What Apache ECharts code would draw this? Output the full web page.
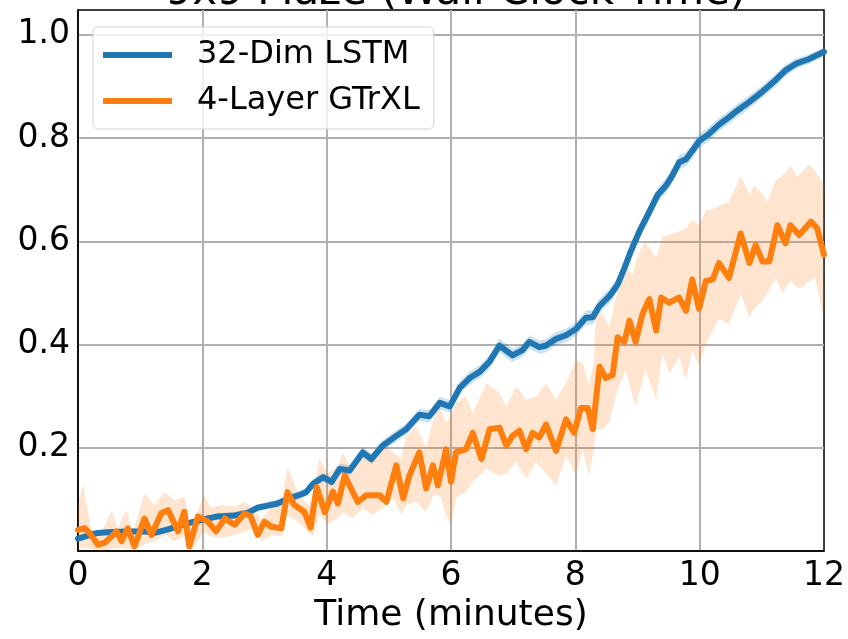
<!DOCTYPE html>
<html>
<head>
<meta charset="utf-8">
<script src="https://cdn.jsdelivr.net/npm/echarts@6/dist/echarts.min.js"></script>
<style>
html,body{margin:0;padding:0;background:#fff;}
#chart{width:848px;height:639px;}
</style>
</head>
<body>
<div id="chart"></div>
<script>
// ---- data ----
var titleText = '9x9 Maze (Wall-Clock Time)';
var xName = 'Time (minutes)';
var seriesNames = ['32-Dim LSTM', '4-Layer GTrXL'];

var blueT = [0.00,0.16,0.32,0.54,0.80,1.07,1.23,1.45,1.66,1.87,2.09,2.25,2.52,2.73,2.89,3.05,3.21,3.40,3.57,3.67,3.78,3.94,4.08,4.21,4.37,4.58,4.72,4.90,5.12,5.28,5.49,5.65,5.82,5.98,6.14,6.30,6.46,6.62,6.78,6.99,7.15,7.26,7.42,7.53,7.69,7.85,8.01,8.17,8.28,8.39,8.55,8.68,8.79,8.89,9.03,9.19,9.32,9.46,9.56,9.67,9.78,9.88,9.99,10.15,10.31,10.47,10.58,10.80,11.01,11.22,11.38,11.55,11.76,12.00];
var blueV = [0.024,0.030,0.035,0.037,0.038,0.038,0.035,0.042,0.050,0.057,0.063,0.067,0.069,0.074,0.084,0.088,0.092,0.102,0.109,0.114,0.130,0.143,0.134,0.159,0.156,0.191,0.178,0.204,0.223,0.236,0.264,0.261,0.287,0.280,0.316,0.335,0.347,0.367,0.398,0.379,0.389,0.405,0.395,0.398,0.411,0.418,0.430,0.452,0.453,0.475,0.494,0.516,0.548,0.580,0.619,0.657,0.689,0.708,0.727,0.753,0.759,0.775,0.794,0.808,0.826,0.840,0.851,0.870,0.890,0.912,0.931,0.944,0.953,0.967];
var blueLow = [0.019,0.025,0.030,0.032,0.033,0.033,0.030,0.036,0.044,0.051,0.057,0.061,0.062,0.067,0.077,0.081,0.085,0.094,0.101,0.106,0.121,0.134,0.125,0.149,0.146,0.181,0.167,0.193,0.212,0.225,0.252,0.249,0.275,0.268,0.303,0.322,0.334,0.354,0.385,0.366,0.376,0.392,0.382,0.385,0.398,0.405,0.417,0.438,0.439,0.461,0.480,0.502,0.534,0.566,0.605,0.643,0.675,0.694,0.713,0.739,0.745,0.761,0.780,0.794,0.813,0.827,0.838,0.857,0.878,0.900,0.920,0.934,0.944,0.959];
var blueHigh = [0.029,0.035,0.040,0.042,0.043,0.044,0.041,0.048,0.056,0.063,0.069,0.073,0.076,0.081,0.091,0.095,0.099,0.110,0.117,0.122,0.139,0.152,0.144,0.169,0.166,0.201,0.189,0.215,0.234,0.247,0.276,0.273,0.299,0.292,0.329,0.348,0.360,0.380,0.411,0.392,0.402,0.418,0.408,0.411,0.424,0.431,0.443,0.466,0.467,0.489,0.508,0.530,0.562,0.594,0.633,0.671,0.703,0.722,0.741,0.767,0.773,0.789,0.808,0.822,0.839,0.853,0.864,0.883,0.902,0.924,0.942,0.954,0.962,0.975];

var orangeT = [0.00,0.11,0.21,0.32,0.43,0.54,0.62,0.70,0.80,0.91,1.07,1.18,1.34,1.45,1.61,1.71,1.79,1.93,2.09,2.22,2.36,2.52,2.68,2.78,2.89,3.00,3.11,3.27,3.37,3.48,3.64,3.74,3.84,3.97,4.10,4.18,4.29,4.50,4.64,4.85,4.96,5.12,5.23,5.33,5.49,5.60,5.71,5.79,5.92,6.00,6.08,6.24,6.35,6.49,6.62,6.78,6.89,6.99,7.10,7.21,7.31,7.42,7.53,7.69,7.85,7.98,8.09,8.20,8.28,8.39,8.49,8.60,8.68,8.79,8.87,8.97,9.08,9.19,9.30,9.38,9.51,9.67,9.78,9.88,9.99,10.10,10.21,10.31,10.47,10.66,10.80,10.90,11.01,11.12,11.25,11.38,11.46,11.60,11.79,11.89,12.00];
var orangeV = [0.041,0.044,0.031,0.012,0.016,0.028,0.038,0.019,0.044,0.009,0.063,0.031,0.073,0.079,0.038,0.076,0.009,0.067,0.057,0.038,0.063,0.051,0.073,0.067,0.031,0.057,0.047,0.044,0.114,0.089,0.076,0.045,0.124,0.075,0.115,0.092,0.146,0.095,0.108,0.108,0.095,0.166,0.102,0.146,0.191,0.121,0.166,0.127,0.197,0.134,0.191,0.197,0.229,0.178,0.236,0.239,0.204,0.223,0.233,0.197,0.229,0.220,0.245,0.194,0.255,0.229,0.277,0.277,0.236,0.357,0.335,0.341,0.414,0.405,0.446,0.405,0.459,0.488,0.427,0.491,0.481,0.491,0.465,0.526,0.469,0.523,0.526,0.558,0.529,0.615,0.558,0.593,0.561,0.561,0.631,0.596,0.631,0.612,0.638,0.625,0.574];

var bandT = [0.00,0.08,0.21,0.37,0.54,0.64,0.78,0.88,1.07,1.23,1.39,1.55,1.71,1.82,2.03,2.14,2.30,2.52,2.68,2.84,2.95,3.11,3.27,3.37,3.53,3.70,3.78,3.88,4.02,4.18,4.26,4.42,4.58,4.74,4.90,5.07,5.20,5.28,5.44,5.60,5.72,5.82,5.92,6.00,6.08,6.24,6.35,6.57,6.78,6.89,7.05,7.21,7.37,7.53,7.69,7.85,8.01,8.12,8.22,8.30,8.33,8.44,8.55,8.68,8.81,8.92,8.97,9.08,9.13,9.30,9.40,9.51,9.67,9.78,9.88,9.99,10.10,10.21,10.31,10.47,10.66,10.80,10.88,11.01,11.09,11.22,11.33,11.46,11.57,11.65,11.76,11.86,12.00];
var bandLow = [0.008,0.006,0.004,0.000,0.004,0.006,0.005,0.001,0.013,0.019,0.031,0.019,0.028,0.000,0.038,0.028,0.025,0.031,0.038,0.044,0.019,0.031,0.028,0.070,0.057,0.038,0.028,0.070,0.051,0.064,0.075,0.064,0.083,0.070,0.083,0.102,0.070,0.089,0.095,0.076,0.108,0.108,0.070,0.051,0.102,0.115,0.134,0.159,0.146,0.150,0.172,0.140,0.172,0.150,0.127,0.185,0.146,0.197,0.146,0.200,0.236,0.236,0.250,0.312,0.351,0.300,0.280,0.330,0.351,0.293,0.382,0.344,0.376,0.331,0.389,0.360,0.402,0.427,0.450,0.440,0.497,0.453,0.470,0.485,0.500,0.529,0.500,0.523,0.510,0.510,0.523,0.529,0.446];
var bandHigh = [0.090,0.130,0.044,0.035,0.078,0.045,0.080,0.036,0.111,0.089,0.114,0.098,0.105,0.044,0.110,0.084,0.089,0.086,0.095,0.082,0.060,0.085,0.089,0.162,0.114,0.089,0.100,0.181,0.150,0.165,0.191,0.153,0.185,0.172,0.210,0.191,0.180,0.223,0.242,0.200,0.255,0.280,0.248,0.265,0.287,0.300,0.268,0.325,0.306,0.280,0.319,0.293,0.300,0.325,0.293,0.325,0.370,0.363,0.320,0.370,0.465,0.459,0.433,0.504,0.548,0.536,0.560,0.593,0.599,0.567,0.609,0.612,0.619,0.625,0.641,0.631,0.660,0.662,0.669,0.676,0.727,0.689,0.708,0.690,0.676,0.717,0.727,0.746,0.724,0.735,0.749,0.735,0.711];

// ---- build ----
var FONT = 'DejaVu Sans';
var BLUE = '#1f77b4', ORANGE = '#ff7f0e';

function zip(xs, ys) { return xs.map(function (x, i) { return [x, ys[i]]; }); }

function bandSeries(ts, lows, highs, fill, z) {
  return {
    type: 'custom',
    silent: true,
    z: z,
    data: [[ts[0], lows[0]]],
    encode: { x: 0, y: 1 },
    renderItem: function (params, api) {
      var pts = [];
      for (var i = 0; i < ts.length; i++) pts.push(api.coord([ts[i], highs[i]]));
      for (var j = ts.length - 1; j >= 0; j--) pts.push(api.coord([ts[j], lows[j]]));
      return { type: 'polygon', shape: { points: pts }, style: { fill: fill } };
    }
  };
}

var chart = echarts.init(document.getElementById('chart'), null, { renderer: 'canvas' });
chart.setOption({
  animation: false,
  backgroundColor: '#fff',
  title: {
    text: titleText,
    left: 451,
    top: -33,
    textAlign: 'center',
    textStyle: { fontFamily: FONT, fontSize: 42, fontWeight: 'normal', color: '#000' }
  },
  grid: { left: 78, right: 23, top: 10, bottom: 83, show: true, borderColor: '#000', borderWidth: 1.5, backgroundColor: 'transparent' },
  legend: {
    data: seriesNames,
    orient: 'vertical',
    left: 93,
    top: 27,
    icon: 'rect',
    itemWidth: 69,
    itemHeight: 6,
    itemGap: 14,
    padding: [12, 14, 12, 10],
    backgroundColor: 'rgba(255,255,255,0.8)',
    borderColor: '#d3d3d3',
    borderWidth: 1,
    borderRadius: 5,
    textStyle: { fontFamily: FONT, fontSize: 32, color: '#000', padding: [0, 0, 0, 20] }
  },
  xAxis: {
    type: 'value',
    min: 0, max: 12, interval: 2,
    name: xName,
    nameLocation: 'middle',
    nameGap: 47,
    nameTextStyle: { fontFamily: FONT, fontSize: 36, color: '#000' },
    axisLine: { show: true, lineStyle: { color: '#000', width: 1.5 } },
    axisTick: { show: false },
    axisLabel: { fontFamily: FONT, fontSize: 33, color: '#000', margin: 9 },
    splitLine: { show: true, showMinLine: false, showMaxLine: false, lineStyle: { color: '#b0b0b0', width: 2 } }
  },
  yAxis: {
    type: 'value',
    min: 0, max: 1.048, interval: 0.2,
    axisLine: { show: true, lineStyle: { color: '#000', width: 1.5 } },
    axisTick: { show: false },
    axisLabel: {
      fontFamily: FONT, fontSize: 33, color: '#000', margin: 8,
      padding: [6, 0, 0, 0],
      showMinLabel: false, showMaxLabel: false,
      formatter: function (v) { return v.toFixed(1); }
    },
    splitLine: { show: true, showMinLine: false, showMaxLine: false, lineStyle: { color: '#b0b0b0', width: 2 } }
  },
  series: [
    bandSeries(blueT, blueLow, blueHigh, 'rgba(31,119,180,0.22)', 1),
    bandSeries(bandT, bandLow, bandHigh, 'rgba(255,127,14,0.2)', 1),
    {
      name: seriesNames[0], type: 'line', data: zip(blueT, blueV),
      symbol: 'none', showSymbol: false, z: 3,
      lineStyle: { color: BLUE, width: 6, join: 'round', cap: 'round' },
      itemStyle: { color: BLUE }
    },
    {
      name: seriesNames[1], type: 'line', data: zip(orangeT, orangeV),
      symbol: 'none', showSymbol: false, z: 4,
      lineStyle: { color: ORANGE, width: 6, join: 'round', cap: 'round' },
      itemStyle: { color: ORANGE }
    }
  ]
});
</script>
</body>
</html>
